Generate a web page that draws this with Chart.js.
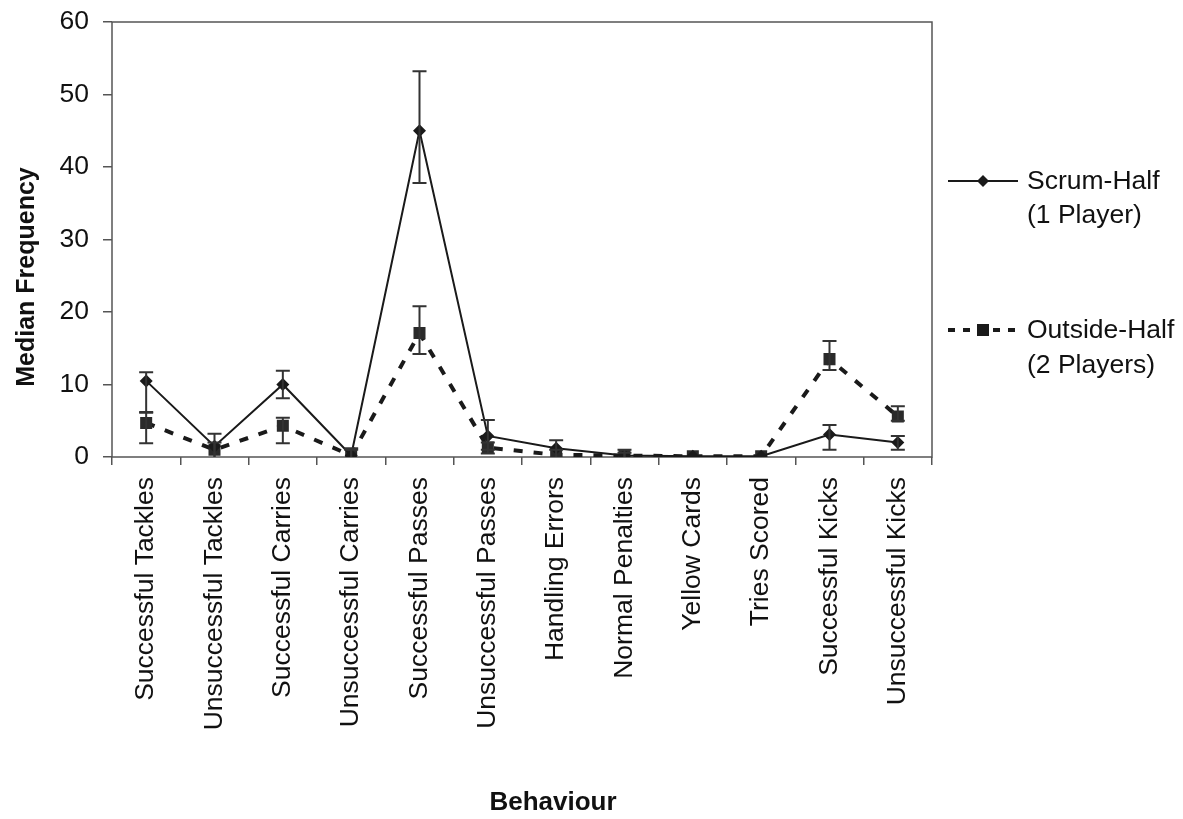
<!DOCTYPE html>
<html>
<head>
<meta charset="utf-8">
<script src="https://cdn.jsdelivr.net/npm/chart.js@4.4.0/dist/chart.umd.min.js"></script>
<style>
  html, body { margin: 0; padding: 0; background: #ffffff; }
  #wrap { width: 1183px; height: 819px; }
</style>
</head>
<body>
<div id="wrap"><canvas id="c" width="1183" height="819"></canvas></div>
<script>
const categories = ['Successful Tackles','Unsuccessful Tackles','Successful Carries','Unsuccessful Carries','Successful Passes','Unsuccessful Passes','Handling Errors','Normal Penalties','Yellow Cards','Tries Scored','Successful Kicks','Unsuccessful Kicks'];

const scrumHalf     = [10.5, 1.5, 10.0, 0.2, 45.0, 2.9, 1.2, 0.2, 0.1, 0.1, 3.1, 2.0];
const scrumHalfHigh = [11.7, 3.2, 11.9, 1.2, 53.2, 5.1, 2.3, 1.0, null, null, 4.4, 2.9];
const scrumHalfLow  = [6.1, 0.0, 8.1, 0.0, 37.8, 1.0, 0.0, 0.0, null, null, 1.0, 1.0];

const outsideHalf     = [4.7, 1.0, 4.3, 0.2, 17.1, 1.3, 0.3, 0.2, 0.1, 0.1, 13.5, 5.6];
const outsideHalfHigh = [6.2, 2.0, 5.4, 1.0, 20.8, 2.0, 1.0, 0.6, null, null, 16.0, 7.0];
const outsideHalfLow  = [1.9, 0.0, 1.9, 0.0, 14.2, 0.5, 0.0, 0.0, null, null, 12.0, 5.0];

const yTicks = [0, 10, 20, 30, 40, 50, 60];
const seriesNames = [['Scrum-Half', '(1 Player)'], ['Outside-Half', '(2 Players)']];
const axisTitles = { x: 'Behaviour', y: 'Median Frequency' };

const FONT = "'Liberation Sans', Arial, sans-serif";
const INK = '#1a1a1a';
const AXIS = '#555555';

const errorBars = [
  { low: scrumHalfLow, high: scrumHalfHigh },
  { low: outsideHalfLow, high: outsideHalfHigh }
];

const framePlugin = {
  id: 'frame',
  beforeDatasetsDraw(chart) {
    const a = chart.chartArea, ctx = chart.ctx;
    ctx.save();
    ctx.strokeStyle = AXIS;
    ctx.lineWidth = 1.5;
    ctx.strokeRect(a.left, a.top, a.right - a.left, a.bottom - a.top);
    ctx.restore();
  }
};

const errorBarPlugin = {
  id: 'errorBars',
  afterDatasetsDraw(chart) {
    const ctx = chart.ctx, xs = chart.scales.x, ys = chart.scales.y;
    ctx.save();
    ctx.strokeStyle = '#333333';
    ctx.lineWidth = 2;
    errorBars.forEach(eb => {
      eb.low.forEach((lo, j) => {
        const hi = eb.high[j];
        if (lo === null || hi === null) return;
        const x = xs.getPixelForValue(j);
        const y1 = ys.getPixelForValue(lo), y2 = ys.getPixelForValue(hi);
        ctx.beginPath();
        ctx.moveTo(x, y1); ctx.lineTo(x, y2);
        ctx.moveTo(x - 7, y2); ctx.lineTo(x + 7, y2);
        if (lo > 0) { ctx.moveTo(x - 7, y1); ctx.lineTo(x + 7, y1); }
        ctx.stroke();
      });
    });
    ctx.restore();
  }
};

const titlesPlugin = {
  id: 'axisTitles',
  afterDraw(chart) {
    const ctx = chart.ctx;
    ctx.save();
    ctx.fillStyle = '#111111';
    ctx.textAlign = 'center';
    ctx.textBaseline = 'middle';
    ctx.font = 'bold 25px ' + FONT;
    ctx.translate(27, 277);
    ctx.rotate(-Math.PI / 2);
    ctx.fillText(axisTitles.y, 0, 0);
    ctx.restore();
    ctx.save();
    ctx.fillStyle = '#111111';
    ctx.textAlign = 'center';
    ctx.textBaseline = 'middle';
    ctx.font = 'bold 26px ' + FONT;
    ctx.fillText(axisTitles.x, 553, 803);
    ctx.restore();
  }
};

const legendPlugin = {
  id: 'sideLegend',
  afterDraw(chart) {
    const ctx = chart.ctx;
    ctx.save();
    ctx.strokeStyle = INK; ctx.fillStyle = INK;
    ctx.lineWidth = 2;
    ctx.beginPath(); ctx.moveTo(948, 181); ctx.lineTo(1018, 181); ctx.stroke();
    ctx.beginPath();
    ctx.moveTo(983, 175); ctx.lineTo(989, 181); ctx.lineTo(983, 187); ctx.lineTo(977, 181); ctx.closePath();
    ctx.fill();
    ctx.lineWidth = 4;
    ctx.setLineDash([7, 8]);
    ctx.beginPath(); ctx.moveTo(948, 330); ctx.lineTo(1018, 330); ctx.stroke();
    ctx.setLineDash([]);
    ctx.fillRect(977, 324, 12, 12);
    ctx.fillStyle = '#111111';
    ctx.font = '26.5px ' + FONT;
    ctx.textAlign = 'left';
    ctx.textBaseline = 'middle';
    ctx.fillText(seriesNames[0][0], 1027, 182);
    ctx.fillText(seriesNames[0][1], 1027, 216);
    ctx.fillText(seriesNames[1][0], 1027, 331);
    ctx.fillText(seriesNames[1][1], 1027, 366);
    ctx.restore();
  }
};

new Chart(document.getElementById('c'), {
  type: 'line',
  data: {
    labels: categories,
    datasets: [
      {
        label: seriesNames[0].join(' '),
        data: scrumHalf,
        borderColor: INK,
        backgroundColor: INK,
        borderWidth: 2,
        pointStyle: 'rectRot',
        pointRadius: 6.5,
        pointBorderWidth: 0,
        pointBackgroundColor: INK,
        tension: 0
      },
      {
        label: seriesNames[1].join(' '),
        data: outsideHalf,
        borderColor: INK,
        backgroundColor: INK,
        borderWidth: 4,
        borderDash: [9, 11],
        pointStyle: 'rect',
        pointRadius: 8.5,
        pointBorderWidth: 0,
        pointBackgroundColor: '#2a2a2a',
        tension: 0
      }
    ]
  },
  options: {
    responsive: false,
    animation: false,
    layout: { padding: { top: 22, right: 251, left: 0, bottom: 0 } },
    plugins: { legend: { display: false }, tooltip: { enabled: false } },
    scales: {
      x: {
        offset: true,
        grid: { offset: true, drawOnChartArea: false, tickLength: 8, color: AXIS, lineWidth: 1.5 },
        border: { display: false },
        ticks: {
          color: '#111111', font: { family: FONT, size: 26.5 },
          maxRotation: 90, minRotation: 90, padding: 12, autoSkip: false
        },
        afterFit(scale) { scale.height = 362; scale.paddingLeft = 0; scale.paddingRight = 0; }
      },
      y: {
        min: 0, max: 60,
        afterBuildTicks(scale) { scale.ticks = yTicks.map(v => ({ value: v })); },
        grid: { drawOnChartArea: false, tickLength: 9, color: AXIS, lineWidth: 1.5 },
        border: { display: false },
        ticks: { color: '#111111', font: { family: FONT, size: 26.5 }, padding: 14 },
        afterFit(scale) { scale.width = 112; scale.paddingTop = 0; scale.paddingBottom = 0; }
      }
    }
  },
  plugins: [framePlugin, errorBarPlugin, titlesPlugin, legendPlugin]
});
</script>
</body>
</html>
